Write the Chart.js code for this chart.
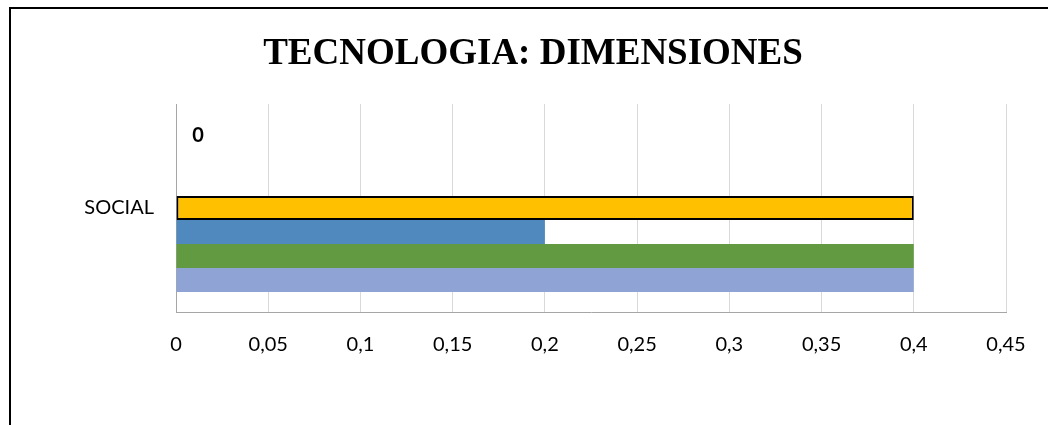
<!DOCTYPE html>
<html>
<head>
<meta charset="utf-8">
<script src="https://cdn.jsdelivr.net/npm/chart.js@4/dist/chart.umd.min.js"></script>
<style>
  html, body { margin: 0; padding: 0; background: #fff; }
  #wrap { position: relative; width: 1048px; height: 425px; overflow: hidden; }
  #frame { position: absolute; left: 9px; top: 7px; width: 1100px; height: 500px;
           border-top: 2px solid #000; border-left: 2px solid #000; box-sizing: border-box; }
  canvas { position: absolute; left: 0; top: 0; }
</style>
</head>
<body>
<div id="wrap">
  <div id="frame"></div>
  <canvas id="c" width="1048" height="425"></canvas>
</div>
<script>
// Category and series values (top bar first)
const categories = ['SOCIAL'];
const serie1 = [0];
const serie2 = [0];
const serie3 = [0];
const serie4 = [0.4];
const serie5 = [0.2];
const serie6 = [0.4];
const serie7 = [0.4];
const xTickLabels = ['0', '0,05', '0,1', '0,15', '0,2', '0,25', '0,3', '0,35', '0,4', '0,45'];
const chartTitle = 'TECNOLOGIA: DIMENSIONES';

const seriesValues = [serie1, serie2, serie3, serie4, serie5, serie6, serie7];
const seriesColors = ['#FFFFFF', '#FFFFFF', '#FFFFFF', '#FFC000', '#4F89BD', '#629A41', '#8FA3D4'];
const seriesBorders = [0, 0, 0, 2, 0, 0, 0];
const labelledSeries = [0];

const FONT = 'Lato, "Open Sans", "DejaVu Sans", sans-serif';

// Title written above the plot, centred on the page
const pageTitle = {
  id: 'pageTitle',
  afterDraw(chart) {
    const ctx = chart.ctx;
    ctx.save();
    ctx.font = 'bold 37px "Liberation Serif", "Times New Roman", serif';
    ctx.fillStyle = '#000';
    ctx.textAlign = 'center';
    ctx.textBaseline = 'alphabetic';
    ctx.fillText(chartTitle, 533, 64);
    ctx.restore();
  }
};

// Writes the value next to the bar for the labelled series
const valueLabels = {
  id: 'valueLabels',
  afterDatasetsDraw(chart) {
    const ctx = chart.ctx;
    ctx.save();
    ctx.font = 'bold 20px ' + FONT;
    ctx.fillStyle = '#000';
    ctx.textAlign = 'center';
    ctx.textBaseline = 'middle';
    labelledSeries.forEach(di => {
      const meta = chart.getDatasetMeta(di);
      meta.data.forEach((bar, i) => {
        const v = chart.data.datasets[di].data[i];
        ctx.fillText(String(v).replace('.', ','), bar.x + 22, bar.y);
      });
    });
    ctx.restore();
  }
};

new Chart(document.getElementById('c'), {
  type: 'bar',
  data: {
    labels: categories,
    datasets: seriesValues.map((vals, i) => ({
      label: 'Serie ' + (i + 1),
      data: vals,
      backgroundColor: seriesColors[i],
      borderColor: '#000',
      borderWidth: seriesBorders[i],
      borderSkipped: false,
      categoryPercentage: 0.8077,
      barPercentage: 1
    }))
  },
  options: {
    indexAxis: 'y',
    responsive: false,
    animation: false,
    layout: { padding: { top: 104, left: 0, right: 42, bottom: 0 } },
    plugins: {
      legend: { display: false },
      tooltip: { enabled: false },
      title: { display: false }
    },
    scales: {
      x: {
        min: 0,
        max: 0.45,
        ticks: {
          stepSize: 0.05,
          color: '#000',
          padding: 21,
          font: { family: FONT, size: 20 },
          callback: (v, i) => xTickLabels[i]
        },
        grid: { color: '#D9D9D9', lineWidth: 1, drawTicks: false },
        border: { color: '#A6A6A6', width: 1 },
        afterFit(scale) { scale.height = 425 - 312; }
      },
      y: {
        ticks: {
          color: '#000',
          padding: 22,
          font: { family: FONT, size: 20 }
        },
        grid: { display: false, drawTicks: false },
        border: { color: '#A6A6A6', width: 1 },
        afterFit(scale) { scale.width = 176; }
      }
    }
  },
  plugins: [valueLabels, pageTitle]
});
</script>
</body>
</html>
